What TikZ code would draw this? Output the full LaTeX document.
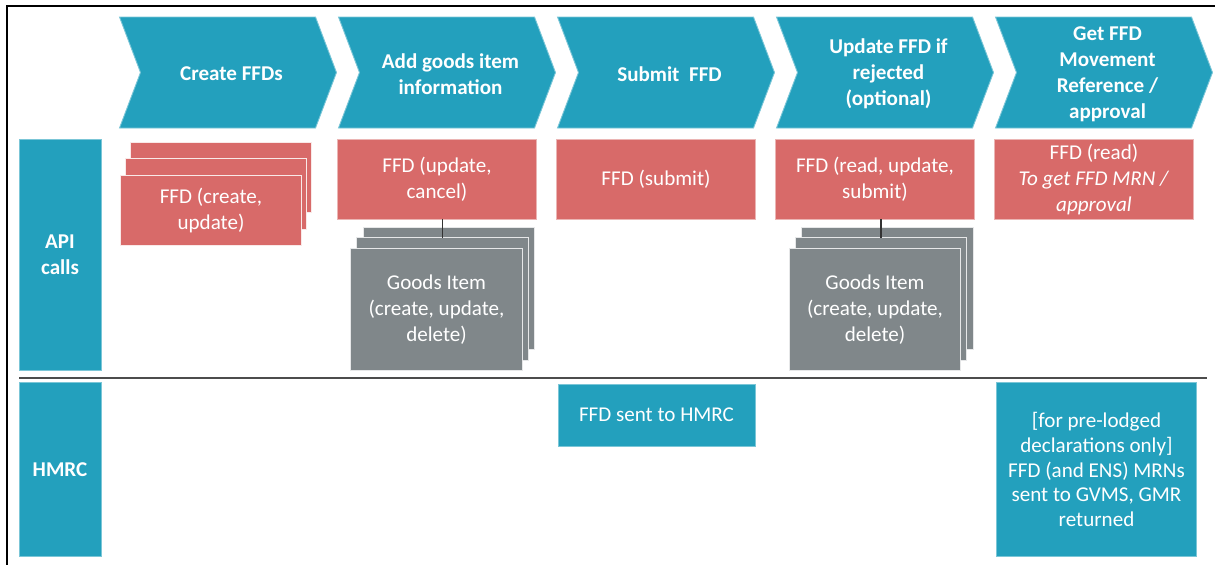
\documentclass[tikz,border=0pt]{standalone}
\usepackage{fontspec}
\setmainfont{Carlito}
\definecolor{ffdteal}{RGB}{35,160,189}
\definecolor{ffdred}{RGB}{216,106,105}
\definecolor{ffdgrey}{RGB}{128,135,138}
\begin{document}
\begin{tikzpicture}[x=0.02cm, y=-0.02cm,
    every node/.style={font=\fontsize{12}{14.8}\selectfont, text=white, align=center, inner sep=0pt, outer sep=0pt},
    stage/.style={fill=ffdteal, draw=ffdteal!60!white, line width=0.5pt},
    stagetext/.style={font=\fontsize{12}{14.8}\selectfont\bfseries},
    lane/.style={fill=ffdteal, draw=ffdteal!60!white, line width=0.5pt, minimum width=1.64cm, font=\fontsize{12}{14.8}\selectfont\bfseries},
    call/.style={fill=ffdred, draw=ffdred!50!white, line width=0.5pt, minimum width=3.98cm, minimum height=1.6cm},
    callstack/.style={fill=ffdred, draw=white!85!ffdred, line width=0.6pt, minimum width=3.62cm, minimum height=1.41cm},
    goods/.style={fill=ffdgrey, draw=white!80!ffdgrey, line width=0.6pt, minimum width=3.43cm, minimum height=2.45cm},
    hmrc/.style={fill=ffdteal, draw=ffdteal!60!white, line width=0.5pt},
    link/.style={draw=black!80, line width=0.6pt}]
    \useasboundingbox (0,0) rectangle (1215,565);
    % frame
    \draw[line width=1.2pt] (1215,6) -- (7,6) -- (7,565);
    % stages
    \foreach \i/\txt [count=\n] in {0/{Create FFDs}, 1/{Add goods item\\information}, 2/{Submit\ \ FFD},
        3/{Update FFD if\\rejected\\(optional)}, 4/{Get FFD\\Movement\\Reference /\\approval}} {
        \draw[stage] (119.5+219*\i,17) -- ++(196,0) -- ++(21,55.5) -- ++(-21,55.5) -- ++(-196,0) -- ++(21,-55.5) -- cycle;
        \node[stagetext] (stage\n) at (231.5+219*\i,74) {\txt};
    }
    % lanes
    \node[lane, minimum height=4.63cm] (apilane) at (60,255) {API\\calls};
    \node[lane, minimum height=3.49cm] (hmrclane) at (60,469.5) {HMRC};
    \draw[draw=black!70, line width=0.6pt] (19,378) -- (1207,378);
    % API calls
    \node[callstack] (createC) at (221,177.5) {};
    \node[callstack] (createB) at (216,194) {};
    \node[callstack] (createA) at (211,210.5) {FFD (create,\\update)};
    \node[call] (callB) at (437,179) {FFD (update,\\cancel)};
    \node[call] (callC) at (656,179) {FFD (submit)};
    \node[call] (callD) at (875,179) {FFD (read, update,\\submit)};
    \node[call] (callE) at (1094,179) {FFD (read)\\\textit{To get FFD MRN /}\\\textit{approval}};
    % goods items
    \node[goods] (gbackB) at (449,288.5) {};
    \node[goods] (gmidB) at (442.5,299) {};
    \draw[link] (gmidB |- callB.south) -- (gmidB);
    \node[goods] (gfrontB) at (436.5,309.5) {Goods Item\\(create, update,\\delete)};
    \node[goods] (gbackD) at (887.5,288.5) {};
    \node[goods] (gmidD) at (881,299) {};
    \draw[link] (gmidD |- callD.south) -- (gmidD);
    \node[goods] (gfrontD) at (875,309.5) {Goods Item\\(create, update,\\delete)};
    % HMRC
    \node[hmrc, minimum width=3.94cm, minimum height=1.24cm] (sentC) at (656.5,415) {FFD sent to HMRC};
    \node[hmrc, minimum width=3.99cm, minimum height=3.49cm, font=\fontsize{12}{14}\selectfont] (gmrE) at (1096.5,469.5)
        {[for pre-lodged\\declarations only]\\FFD (and ENS) MRNs\\sent to GVMS, GMR\\returned};
\end{tikzpicture}
\end{document}
